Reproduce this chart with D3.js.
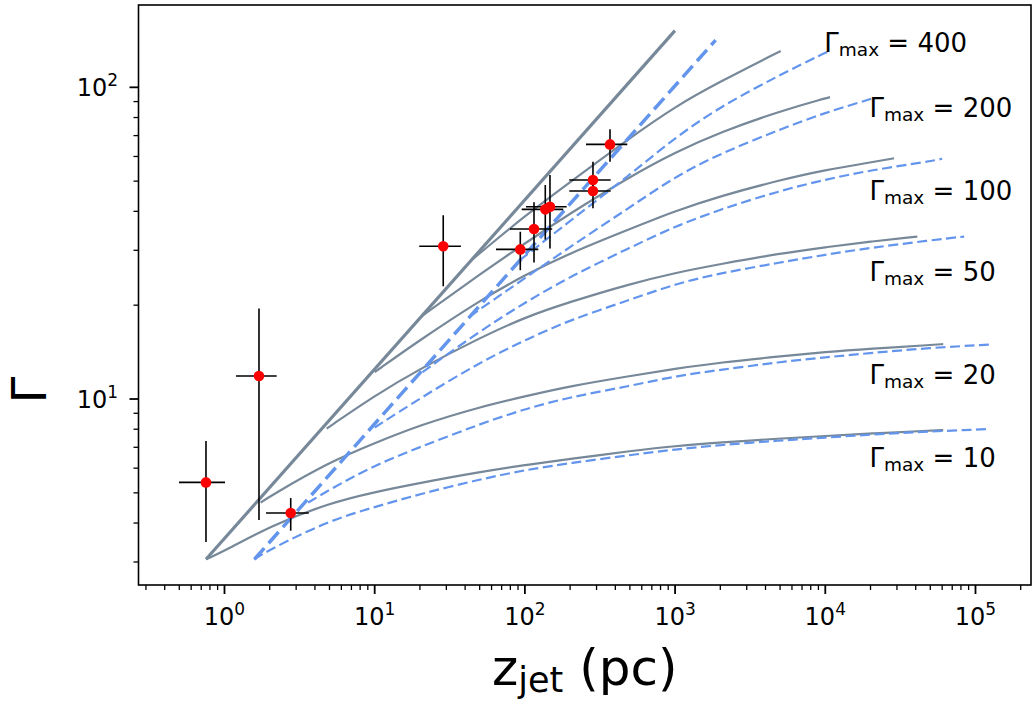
<!DOCTYPE html>
<html><head><meta charset="utf-8">
<script src="https://cdn.jsdelivr.net/npm/d3@7"></script>
<style>body{margin:0;background:#fff} svg{display:block} text{font-family:"DejaVu Sans",sans-serif;fill:#000}</style>
</head><body><svg id="c" width="1032" height="704"></svg>
<script>
// ---- data (z_jet in pc, Lorentz factor Gamma) ----
const accelSolid = [[0.753, 3.06], [998, 152]];
const accelDashed = [[1.58, 3.06], [1862, 141.8]];

const gammaMaxLabels = ["400", "200", "100", "50", "20", "10"];
const labelZ = [1e4, 2e4, 2e4, 2e4, 2e4, 2e4];
const labelG = [130, 80.5, 43.5, 23.9, 11.15, 6.06];

const solid10 = [[0.753,3.06],[1,3.25],[2,3.91],[5,4.64],[10,5.03],[20,5.38],[50,5.83],[100,6.14],[200,6.42],[500,6.81],[1000,7.07],[2000,7.25],[5000,7.47],[1e4,7.61],[2e4,7.75],[5e4,7.92],[6.1e4,7.95]];
const dashed10 = [[1.58,3.06],[2,3.29],[5,4.08],[10,4.50],[20,4.96],[50,5.52],[100,5.92],[200,6.23],[500,6.61],[1000,6.89],[2000,7.12],[5000,7.36],[1e4,7.52],[2e4,7.69],[5e4,7.87],[1.25e5,8.01]];
const solid20 = [[1.74,4.65],[2,4.87],[5,6.28],[10,7.22],[20,8.25],[50,9.43],[100,10.2],[200,11.0],[500,11.85],[1000,12.5],[2000,13.1],[5000,13.7],[1e4,14.15],[2e4,14.5],[5e4,14.9],[6.1e4,15.0]];
const dashed20 = [[3.6,4.65],[5,5.12],[10,6.14],[20,7.01],[50,8.31],[100,9.29],[200,10.15],[500,11.0],[1000,11.85],[2000,12.4],[5000,13.15],[1e4,13.6],[2e4,14.05],[5e4,14.6],[1.25e5,14.95]];
const solid50 = [[4.79,8.04],[10,10.26],[20,12.5],[50,15.7],[100,18.3],[200,20.5],[500,23.4],[1000,25.4],[2000,27.1],[5000,29.3],[1e4,30.7],[2e4,32.0],[4.1e4,33.2]];
const dashed50 = [[10,8.1],[20,10.05],[50,13.1],[100,15.45],[200,17.95],[500,20.8],[1000,23.4],[2000,25.35],[5000,27.4],[1e4,29.05],[2e4,30.55],[5e4,32.3],[8.4e4,33.2]];
const solid100 = [[10,12.2],[20,15.47],[50,20.7],[100,25.0],[200,29.4],[500,35.1],[1000,40.1],[2000,44.8],[5000,50.4],[1e4,54.3],[2e4,57.4],[2.87e4,59.2]];
const dashed100 = [[20.8,12.2],[50,16.5],[100,20.4],[200,24.7],[500,30.6],[1000,35.8],[2000,40.6],[5000,46.6],[1e4,50.6],[2e4,54.2],[5e4,57.9],[6e4,59.0]];
const solid200 = [[20.6,18.45],[50,25.1],[100,31.6],[200,39.4],[500,51.7],[1000,61.9],[2000,71.8],[5000,83.9],[1e4,92.2],[1.075e4,93.0]];
const dashed200 = [[43,18.4],[50,19.4],[100,24.4],[200,30.8],[500,41.2],[1000,51.7],[2000,61.3],[5000,73.3],[1e4,83.0],[2e4,91.6],[2.09e4,92.4]];
const solid400 = [[44.4,28.0],[50,29.3],[100,38.7],[200,49.7],[500,68.8],[1000,86.8],[2000,104.4],[5050,130.8]];
const dashed400 = [[92.6,27.9],[100,28.7],[200,37.3],[500,52.4],[1000,69.0],[2000,86.7],[5000,109.7],[1e4,129.2],[1.04e4,130.1]];

// observed sources
const zjet = [0.753, 1.697, 2.76, 28.6, 93.2, 115, 136.7, 146.9, 284, 284, 368.7];
const zLo  = [0.498, 1.193, 1.89, 19.8, 64.2, 79.6, 95.2, 101.7, 197.5, 197.5, 255.2];
const zHi  = [1.008, 2.226, 3.64, 37.5, 122.8, 152, 180, 189.8, 372.6, 372.6, 480.7];
const gam  = [5.40, 11.85, 4.31, 30.9, 30.2, 35.1, 40.6, 41.4, 50.4, 46.5, 65.6];
const gLo  = [3.48, 4.09, 3.78, 23.0, 25.9, 27.4, 32.5, 30.4, 44.8, 40.9, 57.7];
const gHi  = [7.33, 19.5, 4.81, 38.9, 34.4, 42.8, 48.6, 52.3, 57.7, 52.3, 73.3];

const xMajor = [1, 10, 100, 1000, 1e4, 1e5];
const xMajorExp = ["0", "1", "2", "3", "4", "5"];
const yMajor = [10, 100];
const yMajorExp = ["1", "2"];

// ---- drawing ----
const W = 1032, H = 704;
const m = {left: 138.5, right: 1031, top: 5, bottom: 585};
const x = d3.scaleLog().domain([0.2676, 234200]).range([m.left, m.right]);
const y = d3.scaleLog().domain([2.531, 183.7]).range([m.bottom, m.top]);
const svg = d3.select('#c');
svg.append('rect').attr('width', W).attr('height', H).attr('fill', '#fff');
svg.append('defs').append('clipPath').attr('id', 'clip').append('rect')
  .attr('x', m.left).attr('y', m.top).attr('width', m.right - m.left).attr('height', m.bottom - m.top);
const g = svg.append('g').attr('clip-path', 'url(#clip)');
const line = d3.line().x(d => x(d[0])).y(d => y(d[1])).curve(d3.curveBasis);

const GRAY = '#778899', BLUE = '#6495ed';
const solids = [solid10, solid20, solid50, solid100, solid200, solid400];
const dashes = [dashed10, dashed20, dashed50, dashed100, dashed200, dashed400];

g.selectAll('path.sol').data(solids).join('path').attr('class', 'sol')
  .attr('d', line).attr('fill', 'none').attr('stroke', GRAY).attr('stroke-width', 2.2);
g.append('path').attr('d', line(accelSolid)).attr('fill', 'none').attr('stroke', GRAY).attr('stroke-width', 3.2);
g.selectAll('path.das').data(dashes).join('path').attr('class', 'das')
  .attr('d', line).attr('fill', 'none').attr('stroke', BLUE).attr('stroke-width', 2.2)
  .attr('stroke-dasharray', '10,4.5');
g.append('path').attr('d', line(accelDashed)).attr('fill', 'none').attr('stroke', BLUE)
  .attr('stroke-width', 3.5).attr('stroke-dasharray', '15,6.5');

// error bars + points
const idx = d3.range(zjet.length);
g.selectAll('line.ex').data(idx).join('line').attr('class', 'ex')
  .attr('x1', i => x(zLo[i])).attr('x2', i => x(zHi[i]))
  .attr('y1', i => y(gam[i])).attr('y2', i => y(gam[i]))
  .attr('stroke', '#000').attr('stroke-width', 1.6);
g.selectAll('line.ey').data(idx).join('line').attr('class', 'ey')
  .attr('x1', i => x(zjet[i])).attr('x2', i => x(zjet[i]))
  .attr('y1', i => y(gLo[i])).attr('y2', i => y(gHi[i]))
  .attr('stroke', '#000').attr('stroke-width', 1.6);
g.selectAll('circle').data(idx).join('circle')
  .attr('cx', i => x(zjet[i])).attr('cy', i => y(gam[i])).attr('r', 5.3).attr('fill', '#ff0000');

// Gamma_max labels
gammaMaxLabels.forEach((lab, i) => {
  const t = svg.append('text').attr('x', x(labelZ[i]) - 1).attr('y', y(labelG[i])).attr('font-size', 26);
  t.append('tspan').text('Γ');
  t.append('tspan').attr('font-size', 18.5).attr('dy', 4).text('max');
  t.append('tspan').attr('dy', -4).text(' = ' + lab);
});

// ticks
const ax = svg.append('g');
const xMinor = x.ticks().filter(v => !xMajor.includes(v) && v >= x.domain()[0] && v <= x.domain()[1]);
const yMinor = y.ticks().filter(v => !yMajor.includes(v) && v >= y.domain()[0] && v <= y.domain()[1]);
ax.selectAll('line.xm').data(xMajor).join('line').attr('x1', d => x(d)).attr('x2', d => x(d))
  .attr('y1', m.bottom).attr('y2', m.bottom + 9).attr('stroke', '#000').attr('stroke-width', 1.8);
ax.selectAll('line.xn').data(xMinor).join('line').attr('x1', d => x(d)).attr('x2', d => x(d))
  .attr('y1', m.bottom).attr('y2', m.bottom + 5).attr('stroke', '#000').attr('stroke-width', 1.3);
ax.selectAll('line.ym').data(yMajor).join('line').attr('y1', d => y(d)).attr('y2', d => y(d))
  .attr('x1', m.left).attr('x2', m.left - 9).attr('stroke', '#000').attr('stroke-width', 1.8);
ax.selectAll('line.yn').data(yMinor).join('line').attr('y1', d => y(d)).attr('y2', d => y(d))
  .attr('x1', m.left).attr('x2', m.left - 5).attr('stroke', '#000').attr('stroke-width', 1.3);

xMajor.forEach((v, i) => {
  const t = ax.append('text').attr('x', x(v)).attr('y', 625).attr('text-anchor', 'middle').attr('font-size', 24);
  t.append('tspan').text('10');
  t.append('tspan').attr('font-size', 17).attr('dy', -10).text(xMajorExp[i]);
});
yMajor.forEach((v, i) => {
  const t = ax.append('text').attr('x', 118).attr('y', y(v) + 9).attr('text-anchor', 'end').attr('font-size', 24);
  t.append('tspan').text('10');
  t.append('tspan').attr('font-size', 17).attr('dy', -10).text(yMajorExp[i]);
});

// frame
svg.append('rect').attr('x', m.left).attr('y', m.top).attr('width', m.right - m.left).attr('height', m.bottom - m.top)
  .attr('fill', 'none').attr('stroke', '#000').attr('stroke-width', 1.6);

// axis labels
const xl = svg.append('text').attr('x', (m.left + m.right) / 2).attr('y', 685).attr('text-anchor', 'middle').attr('font-size', 50);
xl.append('tspan').text('z');
xl.append('tspan').attr('font-size', 35).attr('dy', 7).text('jet');
xl.append('tspan').attr('dy', -7).text(' (pc)');
svg.append('text').attr('transform', 'translate(46,390) rotate(-90)').attr('text-anchor', 'middle')
  .attr('font-size', 48).text('Γ');
</script></body></html>
